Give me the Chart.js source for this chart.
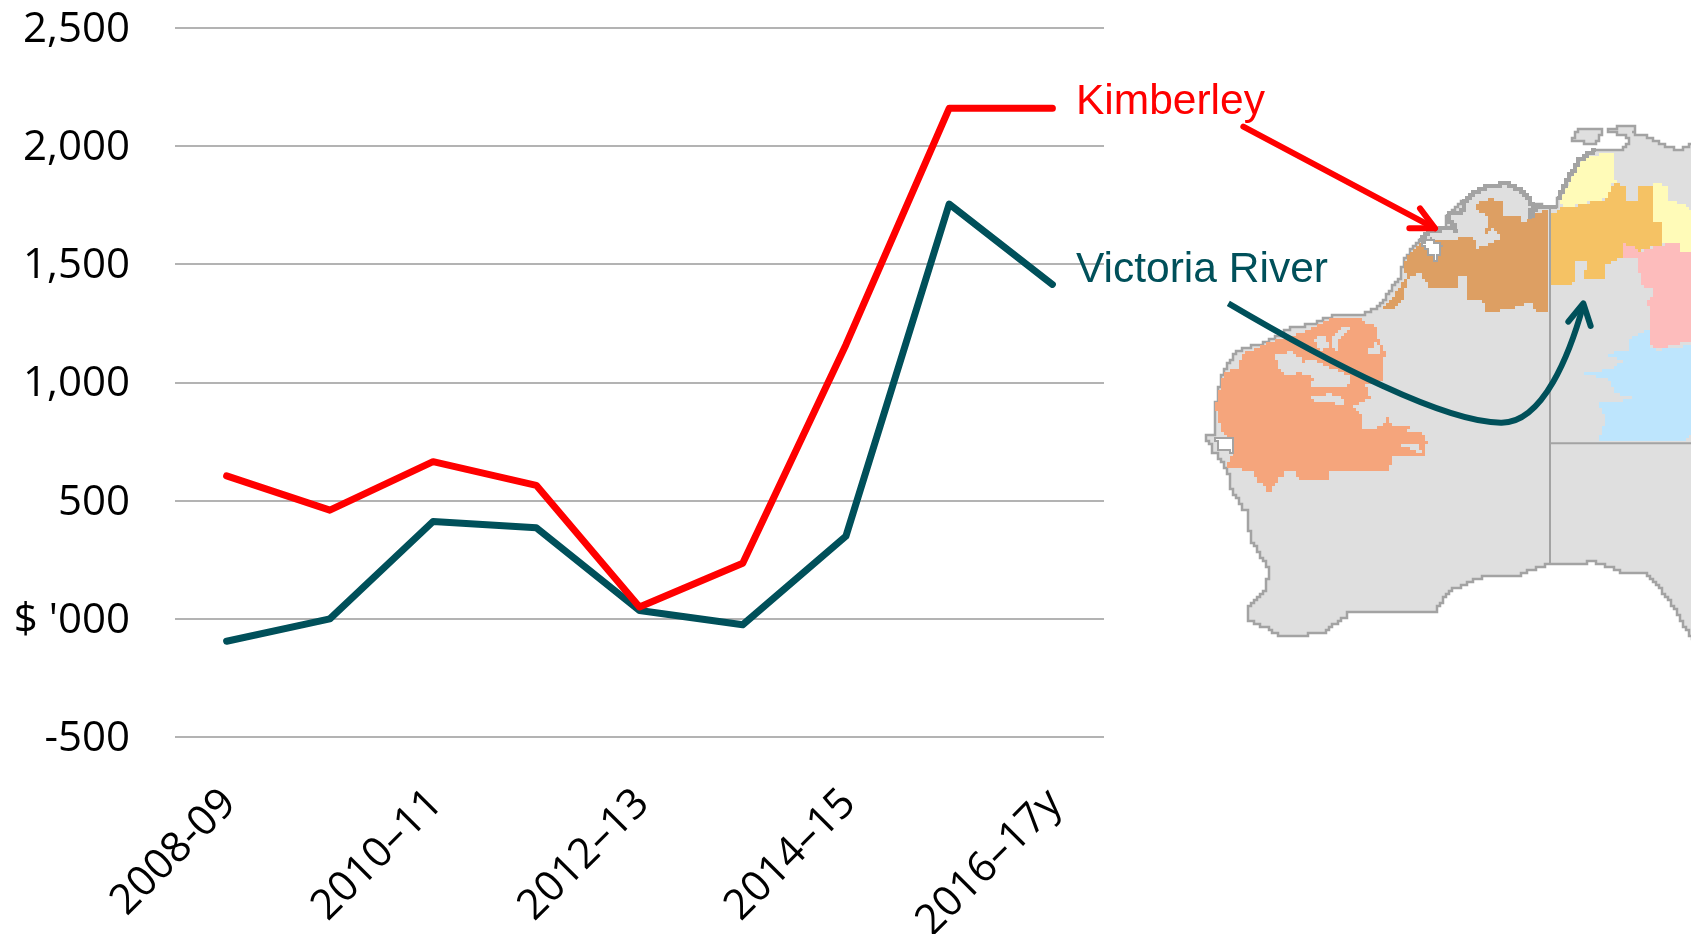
<!DOCTYPE html>
<html><head><meta charset="utf-8">
<style>html,body{margin:0;padding:0;background:#fff}canvas{display:block}</style>
<script src="https://cdn.jsdelivr.net/npm/chart.js@4"></script>
</head><body>
<canvas id="c" width="1694" height="934"></canvas>
<script>
const categories = ['2008-09','2009-10','2010–11','2011–12','2012–13','2013–14','2014–15','2015–16','2016–17y'];
const kimberley = [605,460,665,565,50,235,1160,2160,2160];
const victoriaRiver = [-95,0,412,385,35,-25,350,1755,1415];
const yTickMin = -500, yTickMax = 2500, yTickStep = 500;
const zeroLabel = "$ '000";
const seriesNames = ['Kimberley','Victoria River'];

// Decorative map outline, traced in crop coordinates (3x, origin 1180,100)
const land = [[1135,295],[1160,240],[1190,185],[1215,165],[1250,150],[1320,150],[1345,125],[1340,105],[1285,95],[1290,85],[1340,75],[1365,85],[1360,100],[1390,105],[1440,130],[1490,150],[1545,130],[1545,1615],[1533,1605],[1500,1550],[1470,1500],[1440,1460],[1400,1420],[1330,1415],[1250,1385],[1180,1392],[1100,1395],[1010,1430],[910,1430],[810,1475],[770,1535],[510,1540],[430,1600],[310,1610],[265,1585],[205,1560],[205,1515],[250,1480],[270,1410],[210,1310],[205,1240],[155,1170],[140,1100],[100,1050],[75,1005],[105,1000],[105,920],[130,810],[165,755],[270,720],[330,685],[400,670],[465,645],[560,640],[600,610],[660,530],[675,470],[720,420],[745,395],[800,385],[800,345],[850,300],[900,265],[975,250],[1020,270],[1060,315],[1135,320]];
const tiwi = [[1175,125],[1190,85],[1270,90],[1250,130]];
const heavyCoasts = [
 [[720,420],[745,395],[800,385],[830,390],[800,345],[850,330],[850,300],[900,265],[975,250],[1020,270],[1060,315],[1050,355],[1065,320],[1135,320]],
 [[1135,295],[1160,240],[1190,185],[1215,165],[1250,150]]
];
const kimberleyRegion = [[672,480],[720,425],[780,420],[880,410],[890,445],[930,430],[970,410],[940,385],[915,410],[925,350],[890,330],[885,310],[930,295],[965,310],[965,350],[1020,345],[1025,370],[1060,340],[1105,325],[1105,640],[1065,640],[1060,605],[980,630],[915,635],[910,605],[860,600],[860,525],[835,525],[835,565],[750,565],[725,520],[690,530],[665,605],[640,630],[600,630],[640,590],[680,530],[672,510]];
const kingSound = [[725,425],[750,415],[785,440],[770,480],[745,455]];
const vrRegion = [[1113,340],[1150,320],[1200,315],[1280,295],[1300,250],[1340,265],[1340,300],[1375,300],[1375,260],[1420,260],[1420,365],[1450,370],[1450,435],[1400,445],[1380,460],[1370,445],[1325,430],[1325,470],[1275,500],[1275,535],[1210,535],[1225,480],[1190,480],[1180,555],[1113,555]];
const yellowA = [[1140,295],[1190,190],[1215,170],[1300,155],[1300,235],[1315,245],[1300,250],[1280,295],[1200,315],[1150,320]];
const yellowB = [[1420,250],[1465,260],[1465,305],[1510,310],[1533,340],[1533,460],[1500,460],[1495,425],[1450,435],[1450,370],[1420,365]];
const pink = [[1325,430],[1370,445],[1380,460],[1400,445],[1450,435],[1495,425],[1500,460],[1533,460],[1533,725],[1480,735],[1430,750],[1410,725],[1405,600],[1425,570],[1385,555],[1370,475],[1325,470]];
const blue = [[1385,695],[1410,690],[1410,740],[1430,750],[1533,735],[1533,1005],[1515,1025],[1255,1025],[1275,950],[1255,910],[1370,895],[1300,875],[1295,840],[1215,820],[1300,805],[1325,780],[1280,760],[1345,750],[1350,715]];
const pilbara = [[290,715],[360,700],[400,680],[465,650],[540,655],[585,685],[600,730],[615,760],[605,840],[555,855],[570,895],[520,920],[545,950],[545,990],[600,980],[620,955],[640,975],[690,975],[690,990],[670,998],[725,998],[740,1030],[735,1070],[635,1070],[630,1110],[445,1115],[445,1140],[350,1135],[345,1110],[320,1115],[280,1160],[270,1180],[258,1180],[260,1155],[230,1150],[225,1115],[135,1100],[155,1060],[158,1020],[130,1000],[105,920],[130,815],[170,805],[190,760],[270,725]];
const pilbaraHoles = [
 [[285,765],[330,755],[370,785],[395,780],[440,800],[470,810],[515,835],[510,855],[470,865],[390,860],[400,830],[360,815],[340,825],[320,825],[300,810]],
 [[395,890],[450,880],[490,900],[490,915],[440,905],[395,900]],
 [[455,705],[480,685],[515,685],[480,720],[470,750],[455,740]],
 [[560,750],[590,725],[600,760],[575,765]],
 [[405,715],[430,705],[450,745],[420,750]],
 [[660,1030],[710,1030],[725,1060],[690,1045],[660,1045]]
];
const sharkBay = [[105,1010],[155,1015],[155,1055],[120,1050]];
const stateLines = [[[1110,320],[1110,1395]],[[1110,1030],[1533,1030]]];

const zx = x => 1180 + x/3, zy = y => 100 + y/3;
const CELL = 3;
const snap = v => Math.round(v/CELL)*CELL;
// staircase outline gives the map its raster-grid look
function trace(ctx, pts, closed){
  ctx.beginPath();
  let px=null, py=null;
  const count = closed ? pts.length+1 : pts.length;
  for(let i=0;i<count;i++){
    const a=pts[i%pts.length], x1=zx(a[0]), y1=zy(a[1]);
    if(px===null){ctx.moveTo(snap(x1),snap(y1));px=x1;py=y1;continue;}
    const n=Math.max(1,Math.ceil(Math.hypot(x1-px,y1-py)/CELL));
    let lx=snap(px), ly=snap(py);
    for(let k=1;k<=n;k++){
      const sx=snap(px+(x1-px)*k/n), sy=snap(py+(y1-py)*k/n);
      if(sx!==lx) ctx.lineTo(sx,ly);
      if(sy!==ly) ctx.lineTo(sx,sy);
      lx=sx;ly=sy;
    }
    px=x1;py=y1;
  }
  if(closed) ctx.closePath();
}
function poly(ctx, pts, fill, stroke, sw){
  trace(ctx, pts, true);
  if(fill){ctx.fillStyle=fill;ctx.fill();}
  if(stroke){ctx.strokeStyle=stroke;ctx.lineWidth=sw;ctx.stroke();}
}
const RED='#ff0000', TEAL='#00505a';
const mapPlugin = {
  id:'map',
  beforeDraw(chart){
    const ctx=chart.ctx; ctx.save(); ctx.lineJoin='miter';
    ctx.beginPath();ctx.rect(1100,100,591,600);ctx.clip();
    poly(ctx,land,'#dfdfdf','#a3a3a3',2.5);
    poly(ctx,tiwi,'#dfdfdf','#a3a3a3',2.5);
    poly(ctx,kimberleyRegion,'#dd9f63');
    poly(ctx,kingSound,'#ffffff','#a3a3a3',2);
    poly(ctx,vrRegion,'#f5c264');
    poly(ctx,yellowA,'#fffbb8');
    poly(ctx,yellowB,'#fffbb8');
    poly(ctx,pink,'#fdbcbc');
    poly(ctx,blue,'#bde5fd');
    poly(ctx,pilbara,'#f5a57c');
    pilbaraHoles.forEach(h=>poly(ctx,h,'#dfdfdf'));
    poly(ctx,sharkBay,'#ffffff','#a3a3a3',2);
    ctx.strokeStyle='#a3a3a3';ctx.lineWidth=4;
    heavyCoasts.forEach(c=>{trace(ctx,c,false);ctx.stroke();});
    ctx.lineWidth=2;
    stateLines.forEach(l=>{ctx.beginPath();ctx.moveTo(zx(l[0][0]),zy(l[0][1]));ctx.lineTo(zx(l[1][0]),zy(l[1][1]));ctx.stroke();});
    ctx.restore();
  },
  afterDraw(chart){
    const ctx=chart.ctx; ctx.save();
    ctx.lineCap='round';ctx.lineJoin='round';
    ctx.strokeStyle=RED;ctx.lineWidth=6;
    ctx.beginPath();ctx.moveTo(zx(190),zy(80));ctx.lineTo(zx(765),zy(385));ctx.stroke();
    ctx.beginPath();ctx.moveTo(zx(720),zy(325));ctx.lineTo(zx(765),zy(385));ctx.lineTo(zx(688),zy(385));ctx.stroke();
    ctx.strokeStyle=TEAL;ctx.lineCap='butt';
    ctx.beginPath();ctx.moveTo(zx(145),zy(610));
    ctx.bezierCurveTo(zx(450),zy(790),zx(800),zy(970),zx(965),zy(968));
    ctx.bezierCurveTo(zx(1090),zy(968),zx(1170),zy(760),zx(1210),zy(615));
    ctx.stroke();
    ctx.lineCap='round';
    ctx.beginPath();ctx.moveTo(zx(1165),zy(665));ctx.lineTo(zx(1210),zy(610));ctx.lineTo(zx(1232),zy(678));ctx.stroke();
    ctx.font='42.5px "Liberation Sans"';ctx.textBaseline='alphabetic';ctx.textAlign='left';
    ctx.fillStyle=RED;ctx.fillText(seriesNames[0],1076,114);
    ctx.fillStyle=TEAL;ctx.fillText(seriesNames[1],1076,282);
    ctx.restore();
  }
};
const lineStyle = c => ({borderColor:c,backgroundColor:c,borderWidth:7,pointRadius:0,tension:0,fill:false,borderCapStyle:'round',borderJoinStyle:'round'});
new Chart(document.getElementById('c'),{
  type:'line',
  data:{labels:categories,datasets:[
    {label:seriesNames[0],data:kimberley,...lineStyle(RED)},
    {label:seriesNames[1],data:victoriaRiver,...lineStyle(TEAL)}
  ]},
  options:{
    responsive:false,animation:false,
    layout:{padding:{top:28,right:590,left:0,bottom:0}},
    plugins:{legend:{display:false},tooltip:{enabled:false},title:{display:false}},
    scales:{
      x:{offset:true,border:{display:false},grid:{display:false},
        afterFit(s){s.height=197;},
        ticks:{autoSkip:false,minRotation:45,maxRotation:45,padding:34,labelOffset:3,color:'#000',
          font:{family:'Open Sans',size:42},
          callback(v,i){return i%2===0?this.getLabelForValue(v):'';}}},
      y:{min:yTickMin,max:yTickMax,border:{display:false},
        afterFit(s){s.width=175;s.paddingTop=0;s.paddingBottom=0;},
        grid:{color:'#b3b3b3',lineWidth:2,drawTicks:false},
        ticks:{stepSize:yTickStep,padding:45,labelOffset:2,color:'#000',font:{family:'Open Sans',size:42},
          callback(v){return v===0?zeroLabel:v.toLocaleString('en-US');}}}
    }
  },
  plugins:[mapPlugin]
});
</script>
</body></html>
